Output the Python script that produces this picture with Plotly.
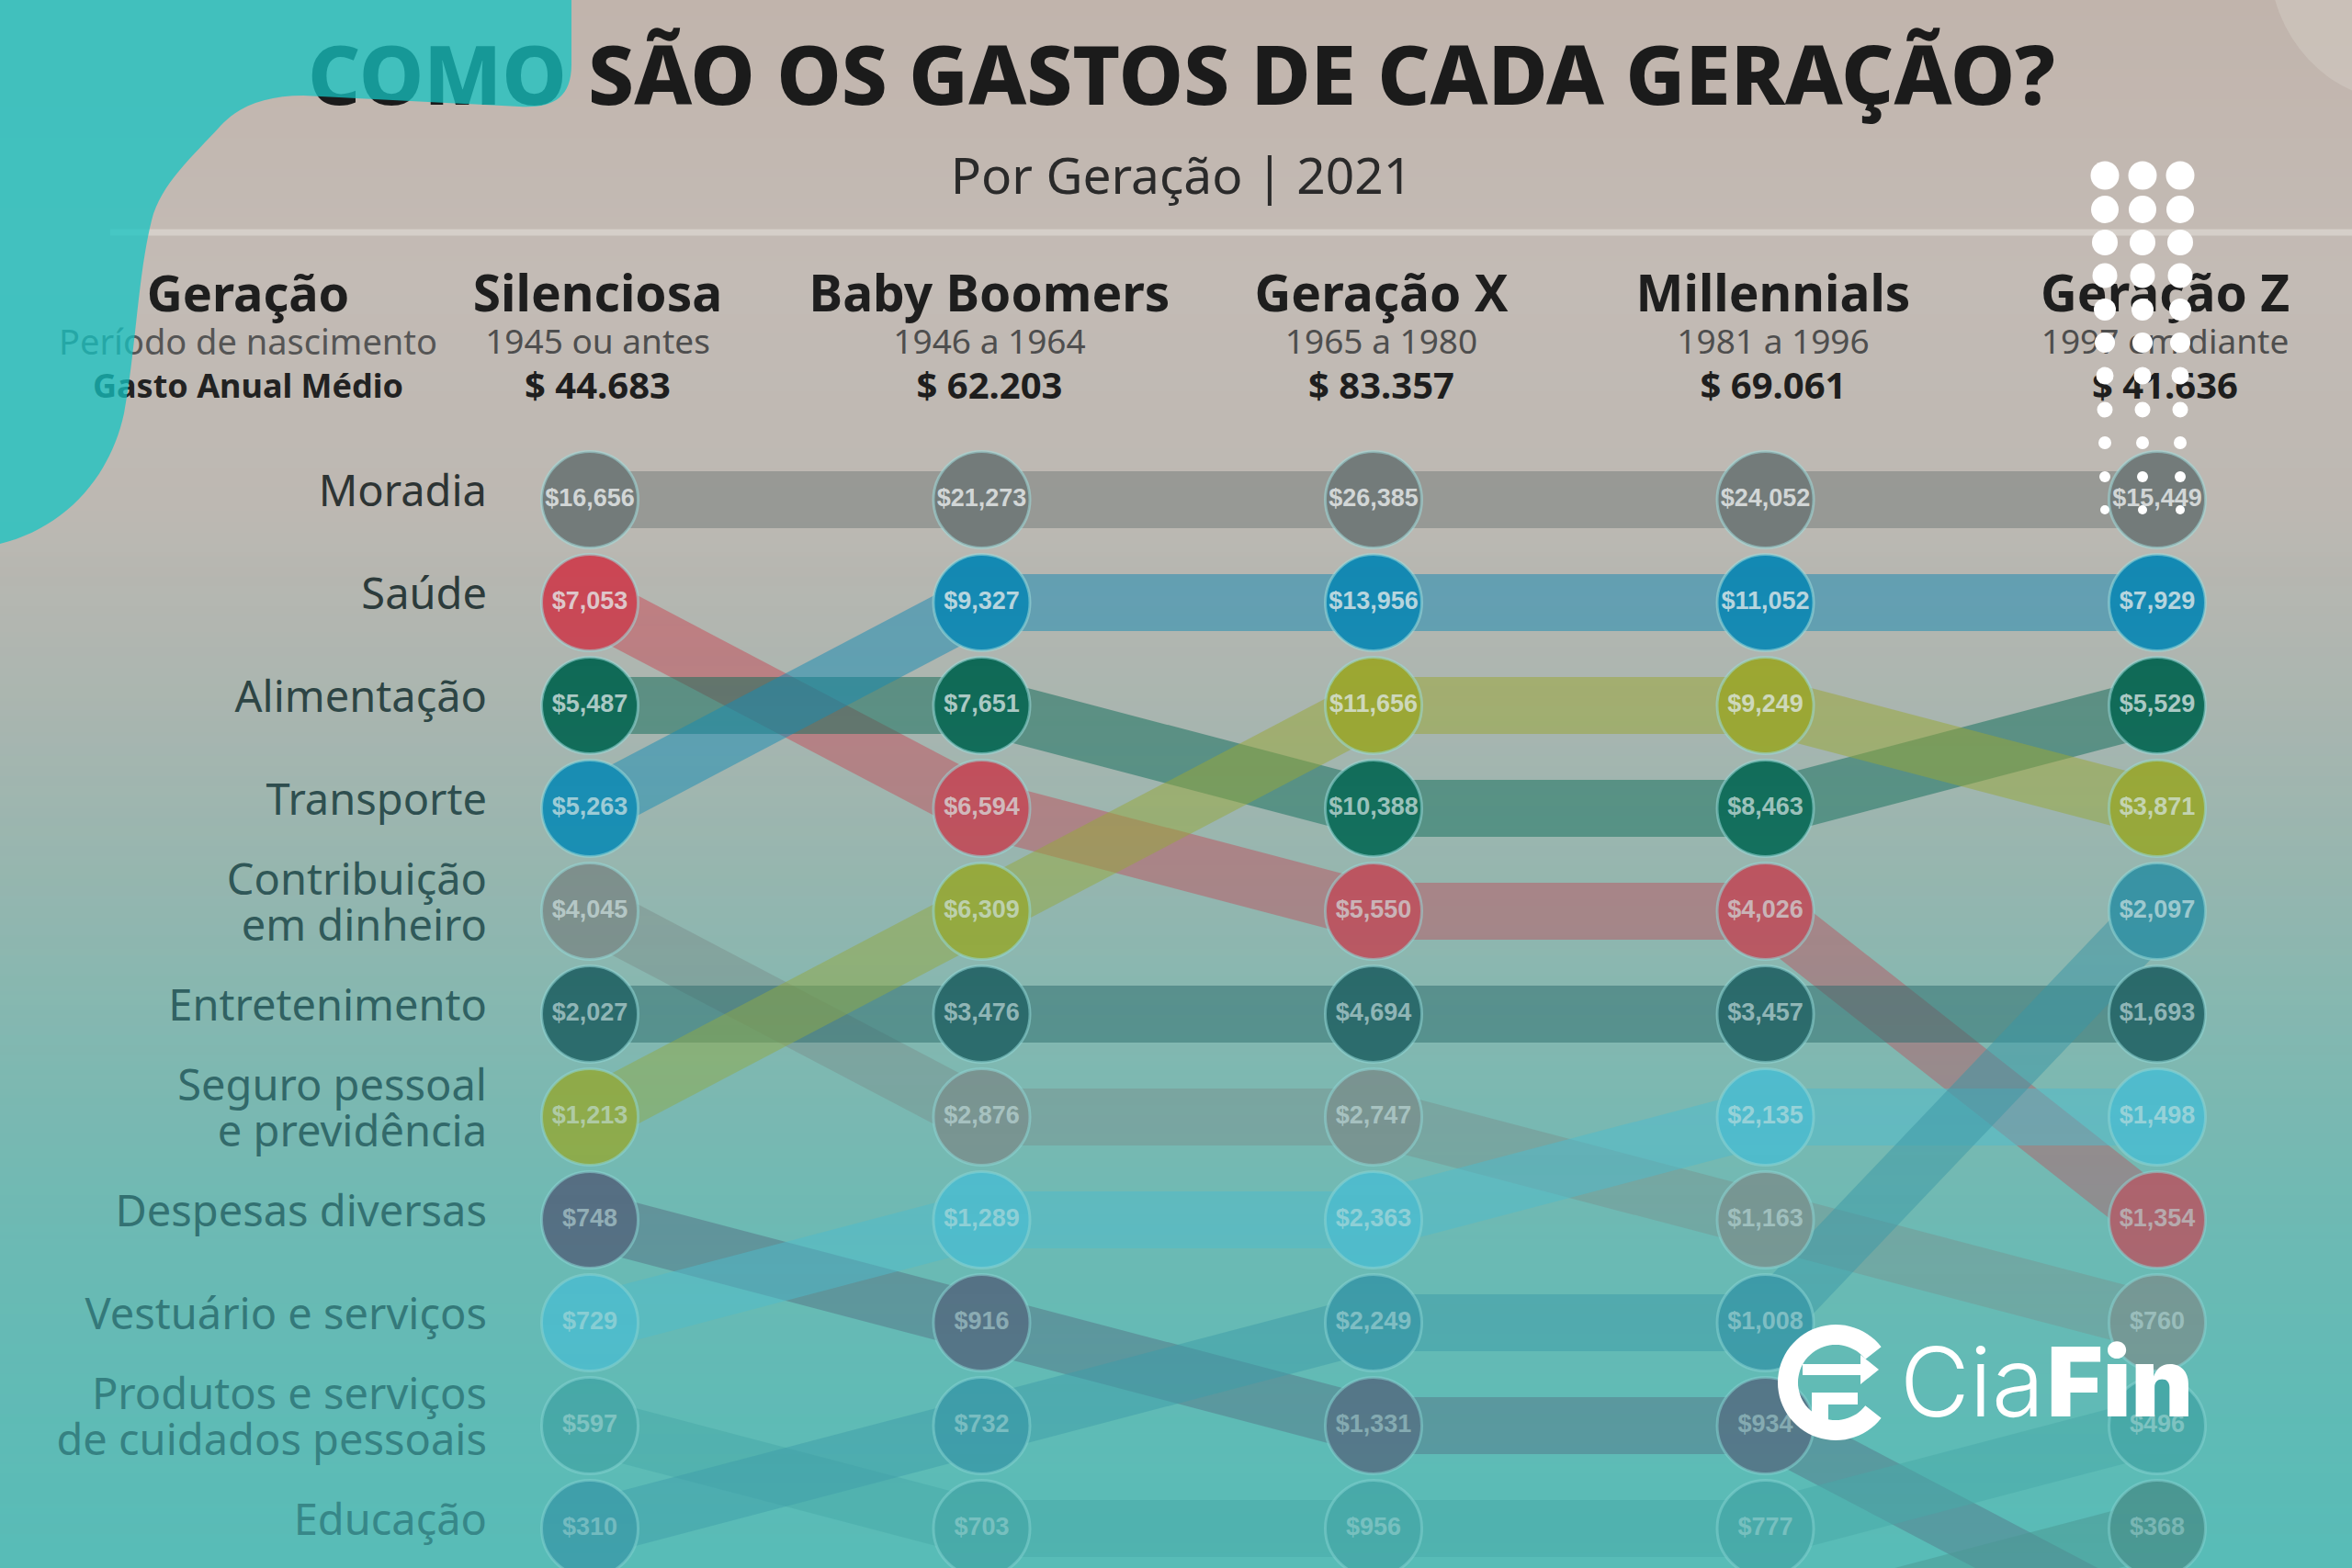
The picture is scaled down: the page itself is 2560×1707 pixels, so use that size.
import math, zlib, struct, base64
import plotly.graph_objects as go

W, H = 2560, 1707

# ---------------- DATA ----------------
generations = ["Silenciosa", "Baby Boomers", "Geração X", "Millennials", "Geração Z"]
birth_periods = ["1945 ou antes", "1946 a 1964", "1965 a 1980", "1981 a 1996", "1997 em diante"]
avg_annual_spend = ["$ 44.683", "$ 62.203", "$ 83.357", "$ 69.061", "$ 41.636"]

categories = ["Moradia", "Saúde", "Alimentação", "Transporte", "Contribuição em dinheiro",
              "Entretenimento", "Seguro pessoal e previdência", "Despesas diversas",
              "Vestuário e serviços", "Produtos e serviços de cuidados pessoais", "Educação", "Outros"]
category_label_lines = [["Moradia"], ["Saúde"], ["Alimentação"], ["Transporte"],
                        ["Contribuição", "em dinheiro"], ["Entretenimento"],
                        ["Seguro pessoal", "e previdência"], ["Despesas diversas"],
                        ["Vestuário e serviços"], ["Produtos e serviços", "de cuidados pessoais"],
                        ["Educação"], []]

# spending per generation (Silenciosa, Baby Boomers, Geração X, Millennials, Geração Z)
moradia        = [16656, 21273, 26385, 24052, 15449]
saude          = [7053, 6594, 5550, 4026, 1354]
alimentacao    = [5487, 7651, 10388, 8463, 5529]
transporte     = [5263, 9327, 13956, 11052, 7929]
contribuicao   = [4045, 2876, 2747, 1163, 760]
entretenimento = [2027, 3476, 4694, 3457, 1693]
seguro         = [1213, 6309, 11656, 9249, 3871]
despesas       = [748, 916, 1331, 934, None]      # Geração Z: below the visible rows
vestuario      = [729, 1289, 2363, 2135, 1498]
produtos       = [597, 703, 956, 777, 496]
educacao       = [310, 732, 2249, 1008, 2097]
outros         = [None, None, None, None, 368]    # category cut off below the picture

spend = [moradia, saude, alimentacao, transporte, contribuicao, entretenimento,
         seguro, despesas, vestuario, produtos, educacao, outros]

# ---------------- STYLE ----------------
cat_colors = ["#737b7a", "#cc4654", "#0d6652", "#1489b3", "#858986", "#24595b",
              "#a0a62c", "#585470", "#50bbd2", "#449e9f", "#368da1", "#48807b"]
HIDDEN_RANK = 12
COL0_PX, COL_STEP = 642, 426.5
ROW1_PX, ROW_STEP = 544, 112
TEAL = (80, 190, 186)


def rank_of(ci, g):
    v = spend[ci][g]
    if v is None:
        return HIDDEN_RANK
    return 1 + sum(1 for s in spend if s[g] is not None and s[g] > v)


ranks = [[rank_of(ci, g) for g in range(len(generations))] for ci in range(len(categories))]


def overlay_alpha(y):
    if y <= 600:
        return 0.0
    return 0.40 * min(1.0, (y - 600) / (H - 600))


bg_stops = [(0, (193, 180, 172)), (300, (195, 187, 181)), (550, (189, 184, 178)),
            (750, (172, 182, 176)), (950, (150, 182, 175)), (1150, (128, 184, 177)),
            (1350, (108, 186, 180)), (1550, (95, 187, 182)), (H, (88, 188, 183))]


def bg_target(y):
    for (y0, c0), (y1, c1) in zip(bg_stops[:-1], bg_stops[1:]):
        if y0 <= y <= y1:
            t = (y - y0) / (y1 - y0)
            return [c0[k] + (c1[k] - c0[k]) * t for k in range(3)]
    return list(bg_stops[-1][1])


def png_uri(rows, width, channels):
    raw = b"".join(b"\x00" + bytes(r) * width for r in rows)
    def chunk(tag, data):
        c = struct.pack(">I", len(data)) + tag + data
        return c + struct.pack(">I", zlib.crc32(tag + data) & 0xffffffff)
    ctype = 6 if channels == 4 else 2
    png = (b"\x89PNG\r\n\x1a\n" +
           chunk(b"IHDR", struct.pack(">IIBBBBB", width, len(rows), 8, ctype, 0, 0, 0)) +
           chunk(b"IDAT", zlib.compress(raw, 9)) + chunk(b"IEND", b""))
    return "data:image/png;base64," + base64.b64encode(png).decode()


bg_rows, ov_rows = [], []
for y in range(H):
    a = overlay_alpha(y)
    tgt = bg_target(y)
    base = [max(0, min(255, int(round((tgt[k] - a * TEAL[k]) / (1 - a))))) for k in range(3)]
    bg_rows.append(base)
    ov_rows.append([TEAL[0], TEAL[1], TEAL[2], int(round(a * 255))])

bg_img = png_uri(bg_rows, 2, 3)
ov_img = png_uri(ov_rows, 2, 4)

fig = go.Figure()

# bands
for ci, cat in enumerate(categories):
    fig.add_trace(go.Scatter(
        x=list(range(len(generations))), y=ranks[ci], mode="lines",
        line=dict(color=cat_colors[ci], width=62), opacity=0.5,
        hoverinfo="skip", showlegend=False))

# circles with values
cx, cy, cc, ct, tc = [], [], [], [], []
for ci, cat in enumerate(categories):
    for g in range(len(generations)):
        v = spend[ci][g]
        if v is None:
            continue
        r = ranks[ci][g]
        cx.append(g)
        cy.append(r)
        cc.append(cat_colors[ci])
        ct.append(f"${v:,}")
        tc.append("rgba(232,236,236,%.2f)" % (0.82 - 0.035 * (r - 1)))
fig.add_trace(go.Scatter(
    x=cx, y=cy, mode="markers+text", text=ct, textposition="middle center",
    marker=dict(size=105, color=cc, line=dict(color="rgba(160,220,220,0.55)", width=3)),
    textfont=dict(family="Liberation Sans Narrow, Liberation Sans, Arial", size=27,
                  color=tc, weight="bold"),
    hoverinfo="skip", showlegend=False))

# row labels (Silenciosa order)
lx, ly, lt, lc = [], [], [], []
label_x = (530 - COL0_PX) / COL_STEP
for ci, lines in enumerate(category_label_lines):
    r = ranks[ci][0]
    n = len(lines)
    t = (r - 1) / 10
    col = "rgb(%d,%d,%d)" % (45 - 5 * t, 52 + 50 * t, 52 + 54 * t)
    for li, line in enumerate(lines):
        lx.append(label_x)
        ly.append(r + (li - (n - 1) / 2) * 0.45 - 0.04)
        lt.append(line)
        lc.append(col)
fig.add_trace(go.Scatter(
    x=lx, y=ly, mode="text", text=lt, textposition="middle left",
    textfont=dict(family="Noto Sans", size=47, color=lc),
    hoverinfo="skip", showlegend=False))

# title and header (pixel-space axes)
fig.add_trace(go.Scatter(
    x=[1286], y=[92], mode="text", xaxis="x2", yaxis="y2",
    text=["COMO SÃO OS GASTOS DE CADA GERAÇÃO?"], textposition="middle center",
    textfont=dict(family="Noto Sans", size=89, color="#1b1b1b", weight=800),
    hoverinfo="skip", showlegend=False))
fig.add_trace(go.Scatter(
    x=[1286], y=[197], mode="text", xaxis="x2", yaxis="y2",
    text=["Por Geração | 2021"], textposition="middle center",
    textfont=dict(family="Noto Sans", size=55, color="#2a2a2a"),
    hoverinfo="skip", showlegend=False))
fig.add_trace(go.Scatter(
    x=[270], y=[325], mode="text", xaxis="x2", yaxis="y2", text=["Geração"],
    textposition="middle center",
    textfont=dict(family="Noto Sans", size=54, color="#1e1e1e", weight="bold"),
    hoverinfo="skip", showlegend=False))
fig.add_trace(go.Scatter(
    x=[270], y=[376], mode="text", xaxis="x2", yaxis="y2", text=["Período de nascimento"],
    textposition="middle center",
    textfont=dict(family="Noto Sans", size=38, color="#555555"),
    hoverinfo="skip", showlegend=False))
fig.add_trace(go.Scatter(
    x=[270], y=[424], mode="text", xaxis="x2", yaxis="y2", text=["Gasto Anual Médio"],
    textposition="middle center",
    textfont=dict(family="Noto Sans", size=36, color="#222222", weight="bold"),
    hoverinfo="skip", showlegend=False))

gx = [g + 0.02 for g in range(len(generations))]
fig.add_trace(go.Scatter(
    x=gx, y=[325] * len(generations), mode="text", xaxis="x", yaxis="y2", text=generations,
    textposition="middle center",
    textfont=dict(family="Noto Sans", size=55, color="#1e1e1e", weight="bold"),
    hoverinfo="skip", showlegend=False))
fig.add_trace(go.Scatter(
    x=gx, y=[376] * len(generations), mode="text", xaxis="x", yaxis="y2", text=birth_periods,
    textposition="middle center",
    textfont=dict(family="Noto Sans", size=37, color="#4e4e4e"),
    hoverinfo="skip", showlegend=False))
fig.add_trace(go.Scatter(
    x=gx, y=[424] * len(generations), mode="text", xaxis="x", yaxis="y2", text=avg_annual_spend,
    textposition="middle center",
    textfont=dict(family="Noto Sans", size=40, color="#1e1e1e", weight="bold"),
    hoverinfo="skip", showlegend=False))

# ---------------- DECORATION ----------------
shapes = []
# light separator line
shapes.append(dict(type="line", xref="x2", yref="y2", x0=120, x1=W, y0=253, y1=253,
                   line=dict(color="rgba(214,208,202,0.95)", width=7), layer="below"))
# top-right glow
shapes.append(dict(type="circle", xref="x2", yref="y2", x0=2470, x1=2760, y0=-200, y1=110,
                   fillcolor="rgba(222,214,206,0.35)", line=dict(width=0), layer="below"))
# teal blob (top-left)
blob = ("M0,0 L622,0 L622,70 C622,108 600,118 565,116 L330,104 C290,104 260,115 240,137 "
        "C210,170 175,200 165,240 C150,300 148,380 135,450 C120,520 70,575 0,592 Z")
shapes.append(dict(type="path", xref="x2", yref="y2", path=blob,
                   fillcolor="rgb(20,196,194)", opacity=0.74, line=dict(width=0), layer="above"))
# white dot grid
dot_rows_y = [191, 228, 264, 300, 337, 373, 409, 446, 482, 519, 555]
dot_sizes = [31, 30, 28, 27, 24, 22, 19, 17, 14, 12, 10]
for yy, d in zip(dot_rows_y, dot_sizes):
    for xx in [2291, 2332, 2373]:
        shapes.append(dict(type="circle", xref="x2", yref="y2", x0=xx - d / 2, x1=xx + d / 2,
                           y0=yy - d / 2, y1=yy + d / 2, fillcolor="white",
                           line=dict(width=0), layer="above"))
# logo icon: C arc + E + arrow
lcx, lcy, ro, ri = 1998, 1505, 63, 41
angs = [38 + (322 - 38) * i / 60 for i in range(61)]
pts = [(lcx + ro * math.cos(math.radians(a)), lcy - ro * math.sin(math.radians(a))) for a in angs]
pts += [(lcx + ri * math.cos(math.radians(a)), lcy - ri * math.sin(math.radians(a))) for a in reversed(angs)]
arc_path = "M" + " L".join(f"{px:.1f},{py:.1f}" for px, py in pts) + " Z"
shapes.append(dict(type="path", xref="x2", yref="y2", path=arc_path, fillcolor="white",
                   line=dict(width=0), layer="above"))
shapes.append(dict(type="rect", xref="x2", yref="y2", x0=1972, x1=1990, y0=1516, y1=1562,
                   fillcolor="white", line=dict(width=0), layer="above"))
shapes.append(dict(type="rect", xref="x2", yref="y2", x0=1972, x1=2022, y0=1516, y1=1529,
                   fillcolor="white", line=dict(width=0), layer="above"))
shapes.append(dict(type="rect", xref="x2", yref="y2", x0=1962, x1=2028, y0=1485, y1=1497,
                   fillcolor="white", line=dict(width=0), layer="above"))
shapes.append(dict(type="path", xref="x2", yref="y2", path="M2025,1475 L2045,1491 L2025,1507 Z",
                   fillcolor="white", line=dict(width=0), layer="above"))

annotations = [
    dict(xref="x2", yref="y2", x=2066, y=1504, text="Cia", showarrow=False,
         xanchor="left", yanchor="middle",
         font=dict(family="Inter", size=104, color="white", weight=300)),
    dict(xref="x2", yref="y2", x=2226, y=1504, text="Fin", showarrow=False,
         xanchor="left", yanchor="middle",
         font=dict(family="Inter", size=104, color="white", weight=900)),
]

images = [
    dict(source=bg_img, xref="paper", yref="paper", x=0, y=1, sizex=1, sizey=1,
         xanchor="left", yanchor="top", sizing="stretch", layer="below"),
    dict(source=ov_img, xref="paper", yref="paper", x=0, y=1, sizex=1, sizey=1,
         xanchor="left", yanchor="top", sizing="stretch", layer="above"),
]

fig.update_layout(
    width=W, height=H, margin=dict(l=0, r=0, t=0, b=0, pad=0),
    paper_bgcolor="#c3b5ad", plot_bgcolor="rgba(0,0,0,0)",
    xaxis=dict(range=[-COL0_PX / COL_STEP, (W - COL0_PX) / COL_STEP], visible=False, fixedrange=True),
    yaxis=dict(range=[1 + (H - ROW1_PX) / ROW_STEP, 1 - ROW1_PX / ROW_STEP], visible=False, fixedrange=True),
    xaxis2=dict(range=[0, W], overlaying="x", visible=False, fixedrange=True),
    yaxis2=dict(range=[H, 0], overlaying="y", visible=False, fixedrange=True),
    shapes=shapes, annotations=annotations, images=images, showlegend=False,
    hovermode=False,
)

fig.write_html("out.html", config={"displayModeBar": False},
               post_script="document.body.style.margin='0';document.body.style.overflow='hidden';")
